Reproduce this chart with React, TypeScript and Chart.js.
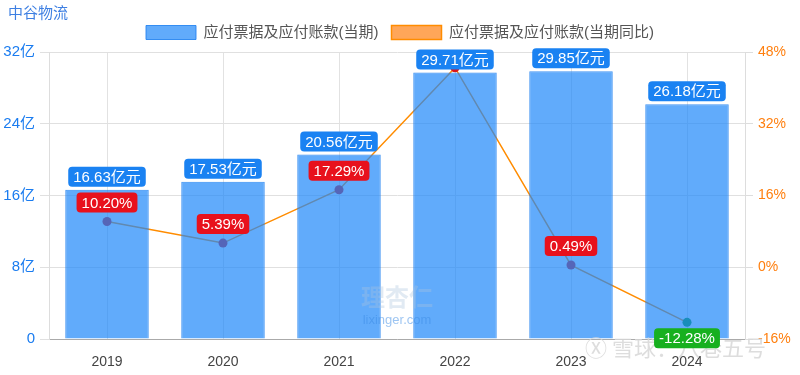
import React, { useEffect, useRef } from "react";
import { Chart, registerables } from "chart.js";

Chart.register(...registerables);

const title = "中谷物流";
const categories = ["2019", "2020", "2021", "2022", "2023", "2024"];
const payables = [16.63, 17.53, 20.56, 29.71, 29.85, 26.18];
const yoyGrowth = [10.2, 5.39, 17.29, 44.5, 0.49, -12.28];
const showYoyLabel = [true, true, true, false, true, true];
const barLabel = "应付票据及应付账款(当期)";
const lineLabel = "应付票据及应付账款(当期同比)";

const FONT = "'Liberation Sans', 'Noto Sans CJK SC', sans-serif";
const BLUE_TEXT = "#1a7cf0";
const ORANGE_TEXT = "#ff7f0e";

function roundRect(ctx: CanvasRenderingContext2D, x: number, y: number, w: number, h: number, r: number) {
  ctx.beginPath();
  ctx.moveTo(x + r, y);
  ctx.lineTo(x + w - r, y);
  ctx.quadraticCurveTo(x + w, y, x + w, y + r);
  ctx.lineTo(x + w, y + h - r);
  ctx.quadraticCurveTo(x + w, y + h, x + w - r, y + h);
  ctx.lineTo(x + r, y + h);
  ctx.quadraticCurveTo(x, y + h, x, y + h - r);
  ctx.lineTo(x, y + r);
  ctx.quadraticCurveTo(x, y, x + r, y);
  ctx.closePath();
}

const titlePlugin = {
  id: "cornerTitle",
  afterDraw(chart: any) {
    const ctx: CanvasRenderingContext2D = chart.ctx;
    ctx.save();
    ctx.font = `15px ${FONT}`;
    ctx.fillStyle = "#3d7fe2";
    ctx.textAlign = "left";
    ctx.textBaseline = "middle";
    ctx.fillText(title, 8, 14);
    ctx.restore();
  },
};

const labelPlugin = {
  id: "valueLabels",
  afterDatasetsDraw(chart: any) {
    const ctx: CanvasRenderingContext2D = chart.ctx;
    ctx.save();
    const h = 20;
    const padX = 4;

    // watermarks
    ctx.save();
    ctx.textAlign = "center";
    ctx.textBaseline = "middle";
    ctx.font = `bold 24px 'Noto Sans CJK SC', sans-serif`;
    ctx.fillStyle = "rgba(170,195,220,0.35)";
    ctx.fillText("理杏仁", 397, 297);
    ctx.font = `13px ${FONT}`;
    ctx.fillStyle = "rgba(60,140,230,0.5)";
    ctx.fillText("lixinger.com", 397, 320);
    ctx.font = `22px 'Noto Sans CJK SC', sans-serif`;
    ctx.fillStyle = "rgba(215,215,215,0.85)";
    ctx.textAlign = "left";
    ctx.fillText("Ⓧ 雪球：八巷五号", 585, 348);
    ctx.restore();

    ctx.font = `15px ${FONT}`;
    ctx.textAlign = "center";
    ctx.textBaseline = "middle";

    const lineMeta = chart.getDatasetMeta(1);
    lineMeta.data.forEach((pt: any, i: number) => {
      if (!showYoyLabel[i]) return;
      const v = yoyGrowth[i];
      const text = v.toFixed(2) + "%";
      const w = ctx.measureText(text).width + padX * 2 + 2;
      const y = v >= 0 ? pt.y - 9 - h : pt.y + 6;
      ctx.fillStyle = v >= 0 ? "#e8111c" : "#17b01f";
      roundRect(ctx, pt.x - w / 2, y, w, h, 4);
      ctx.fill();
      ctx.fillStyle = "#ffffff";
      ctx.fillText(text, pt.x, y + h / 2 + 1);
    });

    const barMeta = chart.getDatasetMeta(0);
    barMeta.data.forEach((bar: any, i: number) => {
      const text = payables[i].toFixed(2) + "亿元";
      const w = ctx.measureText(text).width + padX * 2 + 2;
      const y = bar.y - 3 - h;
      ctx.fillStyle = "#1a82f2";
      roundRect(ctx, bar.x - w / 2, y, w, h, 4);
      ctx.fill();
      ctx.fillStyle = "#ffffff";
      ctx.fillText(text, bar.x, y + h / 2 + 1);
    });
    ctx.restore();
  },
};

export default function App() {
  const canvasRef = useRef<HTMLCanvasElement | null>(null);

  useEffect(() => {
    if (!canvasRef.current) return;
    const chart = new Chart(canvasRef.current, {
      type: "bar",
      data: {
        labels: categories,
        datasets: [
          {
            type: "bar",
            label: barLabel,
            data: payables,
            yAxisID: "y",
            backgroundColor: "rgba(30,136,250,0.7)",
            borderColor: "rgba(30,128,240,0.85)",
            borderWidth: 1,
            barPercentage: 0.72,
            categoryPercentage: 1.0,
            order: 1,
          },
          {
            type: "line",
            label: lineLabel,
            data: yoyGrowth,
            yAxisID: "y1",
            borderColor: "#ff8c00",
            backgroundColor: "rgba(255,150,60,0.85)",
            borderWidth: 1.5,
            pointRadius: 4.5,
            pointBackgroundColor: yoyGrowth.map((v) => (v >= 0 ? "#d8141e" : "#0e9a2a")),
            pointBorderColor: yoyGrowth.map((v) => (v >= 0 ? "#d8141e" : "#0e9a2a")),
            pointBorderWidth: 0,
            tension: 0,
            order: 2,
          } as any,
        ],
      },
      options: {
        responsive: false,
        animation: false,
        maintainAspectRatio: false,
        layout: { padding: { left: 0, right: 0, top: 12, bottom: 0 } },
        plugins: {
          title: { display: false },
          legend: {
            display: true,
            position: "top",
            labels: {
              boxWidth: 50,
              boxHeight: 14,
              padding: 13,
              color: "#555555",
              font: { size: 15, family: FONT },
            },
          },
          tooltip: { enabled: false },
        },
        scales: {
          x: {
            type: "category",
            grid: { display: true, offset: false, color: "#e2e2e2", drawTicks: false },
            border: { display: true, color: "#aaaaaa" },
            ticks: { color: "#444444", font: { size: 14, family: FONT }, padding: 15 },
            afterFit: (s: any) => {
              s.height = 36;
            },
          },
          xTop: {
            type: "category",
            position: "top",
            display: true,
            grid: { display: false, drawTicks: false },
            border: { display: false },
            ticks: { display: false },
            afterFit: (s: any) => {
              s.height = 2;
            },
          },
          y: {
            type: "linear",
            position: "left",
            min: 0,
            max: 32,
            ticks: {
              stepSize: 8,
              color: BLUE_TEXT,
              font: { size: 15, family: FONT },
              padding: 5,
              callback: (v: any) => (v === 0 ? "0" : v + "亿"),
            },
            grid: { color: "#e0e0e0", tickLength: 9 },
            border: { display: true, color: "#dddddd" },
            afterFit: (s: any) => {
              s.width = 49;
            },
          },
          y1: {
            type: "linear",
            position: "right",
            min: -16,
            max: 48,
            ticks: {
              stepSize: 16,
              color: ORANGE_TEXT,
              font: { size: 14, family: FONT },
              padding: 5,
              callback: (v: any) => v + "%",
            },
            grid: { drawOnChartArea: false, color: "#dddddd", tickLength: 8 },
            border: { display: true, color: "#dddddd" },
            afterFit: (s: any) => {
              s.width = 55;
            },
          },
        },
      } as any,
      plugins: [labelPlugin, titlePlugin],
    });
    return () => chart.destroy();
  }, []);

  return (
    <div style={{ position: "absolute", left: 0, top: 0, width: 800, height: 375, background: "#fff" }}>
      <canvas ref={canvasRef} width={800} height={375} style={{ width: 800, height: 375, display: "block" }} />
    </div>
  );
}
